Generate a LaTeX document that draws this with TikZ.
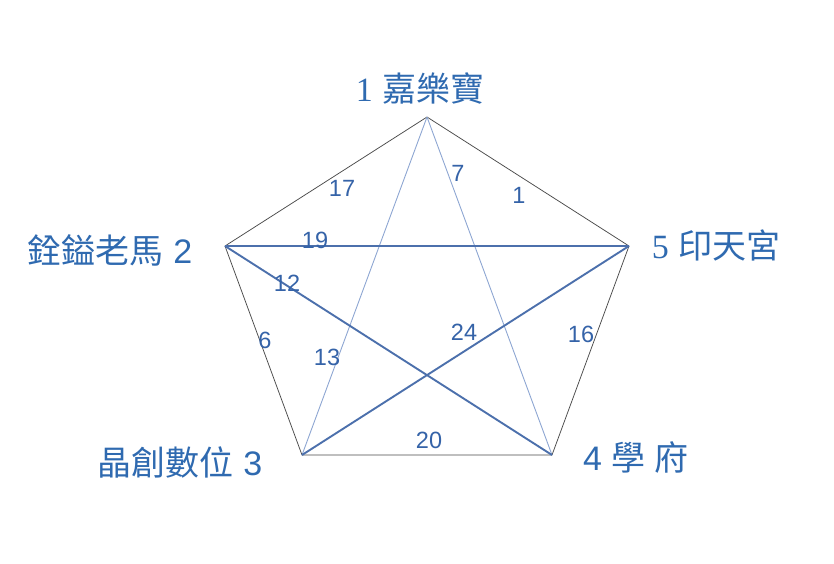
\documentclass[tikz,border=0pt]{standalone}
\usepackage{fontspec}
\setmainfont{Liberation Sans}
\newfontfamily\cjk{Noto Sans CJK TC}
\newfontfamily\serifdigit{Liberation Serif}
\definecolor{labelblue}{HTML}{2F6AB0}
\definecolor{numblue}{HTML}{3563A8}
\definecolor{thickblue}{HTML}{4C70AC}
\definecolor{thinblue}{HTML}{8DA6D2}
\definecolor{edgegray}{HTML}{4A4A4A}
\tikzset{
  vlabel/.style={inner sep=0pt, text=labelblue, font=\fontsize{34}{36}\selectfont},
  numlabel/.style={inner sep=0pt, text=numblue, font=\fontsize{23.5}{25}\selectfont},
  pedge/.style={draw=edgegray, line width=0.75pt},
  thickdiag/.style={draw=thickblue, line width=1.9pt},
  middiag/.style={draw=thickblue, line width=1.4pt},
  thindiag/.style={draw=thinblue, line width=0.9pt}
}
\begin{document}
\begin{tikzpicture}[x=1pt,y=-1pt]
\useasboundingbox (0,0) rectangle (834,563);
\coordinate (v1) at (427,117);
\coordinate (v5) at (629,246);
\coordinate (v4) at (552,455);
\coordinate (v3) at (302,455);
\coordinate (v2) at (225,246);
% pentagon
\draw[pedge] (v1) -- (v5) -- (v4) -- (v3) -- (v2) -- cycle;
% diagonals
\draw[thindiag] (v1) -- (v3);
\draw[thindiag] (v1) -- (v4);
\draw[middiag] (v2) -- (v5);
\draw[thickdiag] (v2) -- (v4);
\draw[thickdiag] (v3) -- (v5);
% vertex labels
\node[vlabel] (L1) at (420,88) {{\serifdigit 1} {\cjk 嘉樂寶}};
\node[vlabel] (L2) at (110,250) {{\cjk 銓鎰老馬} 2};
\node[vlabel] (L3) at (180,462) {{\cjk 晶創數位} 3};
\node[vlabel] (L5) at (716,245) {{\serifdigit 5} {\cjk 印天宮}};
\node[vlabel] (L4) at (636,457) {4 {\cjk 學} {\cjk 府}};
% number labels
\node[numlabel] (n17) at (342,188) {17};
\node[numlabel] (n7) at (458,173) {7};
\node[numlabel] (n1) at (519,195) {1};
\node[numlabel] (n19) at (315,240) {19};
\node[numlabel] (n12) at (287,283) {12};
\node[numlabel] (n6) at (265,340) {6};
\node[numlabel] (n13) at (327,357) {13};
\node[numlabel] (n24) at (464,332) {24};
\node[numlabel] (n16) at (581,334) {16};
\node[numlabel] (n20) at (429,440) {20};
\end{tikzpicture}
\end{document}
